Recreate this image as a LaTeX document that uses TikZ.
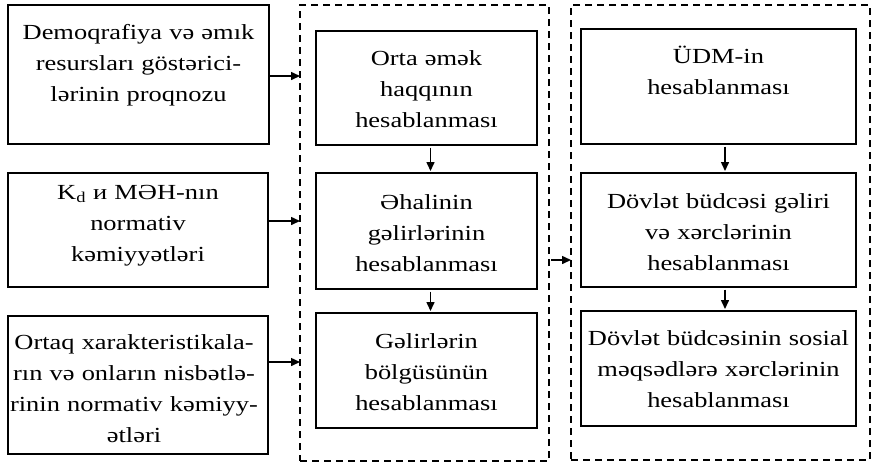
\documentclass[tikz,border=0pt]{standalone}
\usepackage{fontspec}
\setmainfont{Liberation Serif}[FakeStretch=1.23]
\usetikzlibrary{arrows.meta}
\begin{document}
\begin{tikzpicture}[x=1pt,y=-1pt,
 box/.style={draw, line width=1.5pt, inner sep=0pt, outer sep=0pt},
 group/.style={draw, dash pattern=on 7pt off 5pt, line width=1.3pt, inner sep=0pt, outer sep=0pt},
 txt/.style={anchor=base, inner sep=0pt, text width=320pt, align=center, font=\fontsize{21.5}{31}\selectfont},
 arr/.style={line width=1.5pt, -{Triangle[length=9pt,width=8pt]}},
 varr/.style={line width=1.5pt, -{Triangle[length=9pt,width=8pt]}, shorten <=2.5pt, shorten >=2pt}]
\useasboundingbox (0,0) rectangle (872,467);
% left column
\node[box, minimum width=261pt, minimum height=139pt] (L1) at (138.5,74.5) {};
\node[box, minimum width=260pt, minimum height=114pt] (L2) at (138,230) {};
\node[box, minimum width=260pt, minimum height=138pt] (L3) at (138,385) {};
% groups
\node[group, minimum width=249pt, minimum height=456pt] (G1) at (424.5,233) {};
\node[group, minimum width=299pt, minimum height=455pt] (G2) at (720.5,232.5) {};
% middle column
\node[box, minimum width=221pt, minimum height=114pt] (A) at (426.5,88) {};
\node[box, minimum width=221pt, minimum height=116pt] (B) at (426.5,231) {};
\node[box, minimum width=221pt, minimum height=115pt] (C) at (426.5,370.5) {};
% right column
\node[box, minimum width=275pt, minimum height=115pt] (D) at (718.5,86.5) {};
\node[box, minimum width=275pt, minimum height=114pt] (E) at (718.5,230) {};
\node[box, minimum width=275pt, minimum height=115pt] (F) at (718.5,368.5) {};
% texts
\node[txt] (tL1) at (138.5,39) {Demoqrafiya və əmık\\resursları göstərici-\\lərinin proqnozu};
\node[txt] (tL2) at (138,199) {K\textsubscript{d} и MƏH-nın\\normativ\\kəmiyyətləri};
\node[txt] (tL3) at (134,349) {Ortaq xarakteristikala-\\rın və onların nisbətlə-\\rinin normativ kəmiyy-\\ətləri};
\node[txt] (tA) at (426.5,65) {Orta əmək\\haqqının\\hesablanması};
\node[txt] (tB) at (426.5,209) {Əhalinin\\gəlirlərinin\\hesablanması};
\node[txt] (tC) at (426.5,348) {Gəlirlərin\\bölgüsünün\\hesablanması};
\node[txt] (tD) at (718.5,63) {ÜDM-in\\hesablanması};
\node[txt] (tE) at (718.5,208) {Dövlət büdcəsi gəliri\\və xərclərinin\\hesablanması};
\node[txt] (tF) at (718.5,345) {Dövlət büdcəsinin sosial\\məqsədlərə xərclərinin\\hesablanması};
% connectors
\draw[arr] (L1.east |- 0,76) -- (G1.west |- 0,76);
\draw[arr] (L2.east |- 0,221) -- (G1.west |- 0,221);
\draw[arr] (L3.east |- 0,362) -- (G1.west |- 0,362);
\draw[arr, shorten <=2pt] (G1.east |- 0,260) -- (G2.west |- 0,260);
\draw[varr] ([xshift=4pt]A.south) -- ([xshift=4pt]B.north);
\draw[varr] ([xshift=4pt]B.south) -- ([xshift=4pt]C.north);
\draw[varr] ([xshift=6.5pt]D.south) -- ([xshift=6.5pt]E.north);
\draw[varr] ([xshift=6.5pt]E.south) -- ([xshift=6.5pt]F.north);
\end{tikzpicture}
\end{document}
